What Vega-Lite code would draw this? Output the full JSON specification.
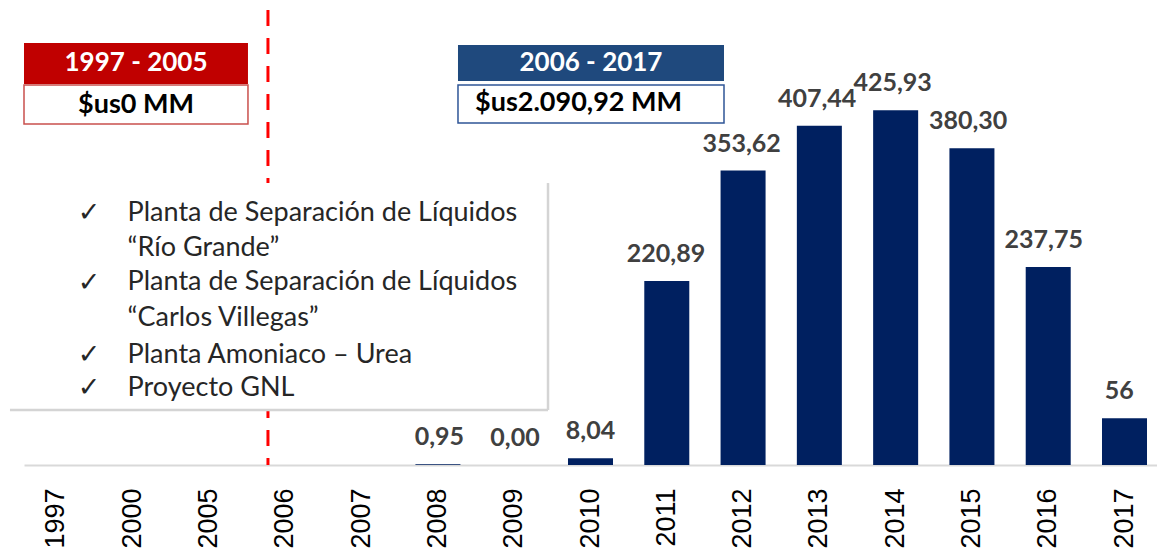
{
  "$schema": "https://vega.github.io/schema/vega-lite/v6.json",
  "width": 1133,
  "height": 458,
  "padding": {"left": 24, "top": 7, "right": 0, "bottom": 88},
  "autosize": {"type": "none"},
  "background": "white",
  "config": {"view": {"stroke": null}},
  "datasets": {
    "bars": [
      {"year": "1997", "value": 0, "label": ""},
      {"year": "2000", "value": 0, "label": ""},
      {"year": "2005", "value": 0, "label": ""},
      {"year": "2006", "value": 0, "label": ""},
      {"year": "2007", "value": 0, "label": ""},
      {"year": "2008", "value": 0.95, "label": "0,95"},
      {"year": "2009", "value": 0, "label": "0,00"},
      {"year": "2010", "value": 8.04, "label": "8,04"},
      {"year": "2011", "value": 220.89, "label": "220,89"},
      {"year": "2012", "value": 353.62, "label": "353,62"},
      {"year": "2013", "value": 407.44, "label": "407,44"},
      {"year": "2014", "value": 425.93, "label": "425,93"},
      {"year": "2015", "value": 380.30, "label": "380,30"},
      {"year": "2016", "value": 237.75, "label": "237,75"},
      {"year": "2017", "value": 56, "label": "56"}
    ],
    "boxes": [
      {"box": "redHead", "x1": -0.426, "x2": 2.51, "y1": 457.5, "y2": 506.8},
      {"box": "redSub", "x1": -0.426, "x2": 2.51, "y1": 409.5, "y2": 456.3},
      {"box": "blueHead", "x1": 5.263, "x2": 8.75, "y1": 461.1, "y2": 504.4},
      {"box": "blueSub", "x1": 5.263, "x2": 8.75, "y1": 410.7, "y2": 456.3},
      {"box": "panel", "x1": -0.61, "x2": 6.443, "y1": 66.0, "y2": 338.6}
    ],
    "vline": [{"u": 2.772, "v1": 0, "v2": 546.4}],
    "shadowV": [{"u": 6.443, "v1": 66.0, "v2": 338.6}],
    "shadowH": [{"u1": -0.61, "u2": 6.443, "v": 66.0}],
    "headTexts": [
      {"u": 1.042, "v": 482.2, "text": "1997 - 2005"},
      {"u": 7.006, "v": 482.7, "text": "2006 - 2017"}
    ],
    "subTexts": [
      {"u": 1.042, "v": 432.9, "text": "$us0 MM"},
      {"u": 6.843, "v": 434.7, "text": "$us2.090,92 MM"}
    ],
    "checks": [
      {"u": 0.426, "v": 302.6},
      {"u": 0.426, "v": 218.6},
      {"u": 0.426, "v": 132.1},
      {"u": 0.426, "v": 92.5}
    ],
    "items": [
      {"u": 0.932, "v": 302.6, "text": "Planta de Separación de Líquidos"},
      {"u": 0.932, "v": 260.6, "text": "“Río Grande”"},
      {"u": 0.932, "v": 219.8, "text": "Planta de Separación de Líquidos"},
      {"u": 0.932, "v": 176.5, "text": "“Carlos Villegas”"},
      {"u": 0.932, "v": 132.1, "text": "Planta Amoniaco – Urea"},
      {"u": 0.932, "v": 92.5, "text": "Proyecto GNL"}
    ]
  },
  "layer": [
    {
      "data": {"name": "bars"},
      "mark": {"type": "bar", "color": "#002060"},
      "encoding": {
        "x": {
          "field": "year", "type": "nominal", "sort": null,
          "scale": {"paddingInner": 0.41, "paddingOuter": 0.131},
          "axis": {
            "title": null, "labelAngle": -90, "labelFont": "Liberation Sans",
            "labelFontSize": 27, "labelColor": "#000000", "ticks": false,
            "tickSize": 0, "labelPadding": 23, "domainColor": "#d9d9d9",
            "domainWidth": 2, "grid": false
          }
        },
        "y": {"field": "value", "type": "quantitative", "scale": {"domain": [0, 550], "nice": false, "zero": true}, "axis": null}
      }
    },
    {
      "data": {"name": "bars"},
      "mark": {"type": "text", "font": "Lato", "fontWeight": "bold", "fontSize": 25, "color": "#404040", "baseline": "alphabetic", "dy": -19},
      "encoding": {
        "x": {"field": "year", "type": "nominal", "sort": null, "scale": {"paddingInner": 0.41, "paddingOuter": 0.131}, "axis": null},
        "y": {"field": "value", "type": "quantitative", "scale": {"domain": [0, 550], "nice": false}, "axis": null},
        "text": {"field": "label"}
      }
    },
    {
      "data": {"name": "vline"},
      "mark": {"type": "rule", "color": "#FF0000", "strokeWidth": 3, "strokeDash": [16, 12]},
      "encoding": {
        "x": {"field": "u", "type": "quantitative", "scale": {"domain": [-0.426, 14.426], "nice": false, "zero": false}, "axis": null},
        "y": {"field": "v2", "type": "quantitative", "scale": {"domain": [0, 550], "nice": false}, "axis": null},
        "y2": {"field": "v1"}
      }
    },
    {
      "data": {"name": "boxes"},
      "transform": [{"filter": "datum.box === 'panel'"}],
      "mark": {"type": "rect", "fill": "#ffffff", "strokeWidth": 0},
      "encoding": {
        "x": {"field": "x1", "type": "quantitative", "scale": {"domain": [-0.426, 14.426], "nice": false, "zero": false}, "axis": null},
        "x2": {"field": "x2"},
        "y": {"field": "y1", "type": "quantitative", "scale": {"domain": [0, 550], "nice": false}, "axis": null},
        "y2": {"field": "y2"}
      }
    },
    {
      "data": {"name": "shadowV"},
      "mark": {"type": "rule", "color": "#d4d4d4", "strokeWidth": 2.5},
      "encoding": {
        "x": {"field": "u", "type": "quantitative", "scale": {"domain": [-0.426, 14.426], "nice": false, "zero": false}, "axis": null},
        "y": {"field": "v1", "type": "quantitative", "scale": {"domain": [0, 550], "nice": false}, "axis": null},
        "y2": {"field": "v2"}
      }
    },
    {
      "data": {"name": "shadowH"},
      "mark": {"type": "rule", "color": "#d4d4d4", "strokeWidth": 2.5},
      "encoding": {
        "x": {"field": "u1", "type": "quantitative", "scale": {"domain": [-0.426, 14.426], "nice": false, "zero": false}, "axis": null},
        "x2": {"field": "u2"},
        "y": {"field": "v", "type": "quantitative", "scale": {"domain": [0, 550], "nice": false}, "axis": null}
      }
    },
    {
      "data": {"name": "boxes"},
      "transform": [{"filter": "datum.box === 'redHead'"}],
      "mark": {"type": "rect", "fill": "#C00000"},
      "encoding": {
        "x": {"field": "x1", "type": "quantitative", "scale": {"domain": [-0.426, 14.426], "nice": false, "zero": false}, "axis": null},
        "x2": {"field": "x2"},
        "y": {"field": "y1", "type": "quantitative", "scale": {"domain": [0, 550], "nice": false}, "axis": null},
        "y2": {"field": "y2"}
      }
    },
    {
      "data": {"name": "boxes"},
      "transform": [{"filter": "datum.box === 'redSub'"}],
      "mark": {"type": "rect", "fill": "#ffffff", "stroke": "#C9504D", "strokeWidth": 1.5},
      "encoding": {
        "x": {"field": "x1", "type": "quantitative", "scale": {"domain": [-0.426, 14.426], "nice": false, "zero": false}, "axis": null},
        "x2": {"field": "x2"},
        "y": {"field": "y1", "type": "quantitative", "scale": {"domain": [0, 550], "nice": false}, "axis": null},
        "y2": {"field": "y2"}
      }
    },
    {
      "data": {"name": "boxes"},
      "transform": [{"filter": "datum.box === 'blueHead'"}],
      "mark": {"type": "rect", "fill": "#1F497D"},
      "encoding": {
        "x": {"field": "x1", "type": "quantitative", "scale": {"domain": [-0.426, 14.426], "nice": false, "zero": false}, "axis": null},
        "x2": {"field": "x2"},
        "y": {"field": "y1", "type": "quantitative", "scale": {"domain": [0, 550], "nice": false}, "axis": null},
        "y2": {"field": "y2"}
      }
    },
    {
      "data": {"name": "boxes"},
      "transform": [{"filter": "datum.box === 'blueSub'"}],
      "mark": {"type": "rect", "fill": "#ffffff", "stroke": "#2F5597", "strokeWidth": 1.5},
      "encoding": {
        "x": {"field": "x1", "type": "quantitative", "scale": {"domain": [-0.426, 14.426], "nice": false, "zero": false}, "axis": null},
        "x2": {"field": "x2"},
        "y": {"field": "y1", "type": "quantitative", "scale": {"domain": [0, 550], "nice": false}, "axis": null},
        "y2": {"field": "y2"}
      }
    },
    {
      "data": {"name": "headTexts"},
      "mark": {"type": "text", "font": "Lato", "fontWeight": "bold", "fontSize": 26, "color": "#ffffff", "baseline": "middle", "align": "center"},
      "encoding": {
        "x": {"field": "u", "type": "quantitative", "scale": {"domain": [-0.426, 14.426], "nice": false, "zero": false}, "axis": null},
        "y": {"field": "v", "type": "quantitative", "scale": {"domain": [0, 550], "nice": false}, "axis": null},
        "text": {"field": "text"}
      }
    },
    {
      "data": {"name": "subTexts"},
      "mark": {"type": "text", "font": "Lato", "fontWeight": "bold", "fontSize": 27, "color": "#000000", "baseline": "middle", "align": "center"},
      "encoding": {
        "x": {"field": "u", "type": "quantitative", "scale": {"domain": [-0.426, 14.426], "nice": false, "zero": false}, "axis": null},
        "y": {"field": "v", "type": "quantitative", "scale": {"domain": [0, 550], "nice": false}, "axis": null},
        "text": {"field": "text"}
      }
    },
    {
      "data": {"name": "checks"},
      "mark": {"type": "text", "font": "DejaVu Sans", "fontSize": 27, "color": "#262626", "baseline": "middle", "align": "center", "text": "✓"},
      "encoding": {
        "x": {"field": "u", "type": "quantitative", "scale": {"domain": [-0.426, 14.426], "nice": false, "zero": false}, "axis": null},
        "y": {"field": "v", "type": "quantitative", "scale": {"domain": [0, 550], "nice": false}, "axis": null}
      }
    },
    {
      "data": {"name": "items"},
      "mark": {"type": "text", "font": "Lato", "fontSize": 27, "color": "#262626", "baseline": "middle", "align": "left"},
      "encoding": {
        "x": {"field": "u", "type": "quantitative", "scale": {"domain": [-0.426, 14.426], "nice": false, "zero": false}, "axis": null},
        "y": {"field": "v", "type": "quantitative", "scale": {"domain": [0, 550], "nice": false}, "axis": null},
        "text": {"field": "text"}
      }
    }
  ],
  "resolve": {"scale": {"x": "independent"}}
}
